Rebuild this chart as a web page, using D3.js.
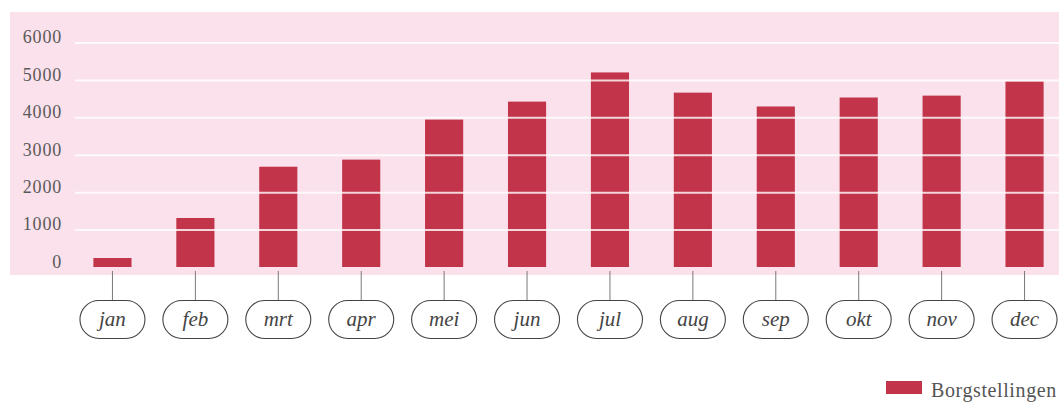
<!DOCTYPE html>
<html><head><meta charset="utf-8">
<script src="https://cdn.jsdelivr.net/npm/d3@7"></script>
<style>body{margin:0;background:#fff}svg{display:block}</style>
</head><body>
<svg id="c" width="1059" height="402"></svg>
<script>
const months = ["jan","feb","mrt","apr","mei","jun","jul","aug","sep","okt","nov","dec"];
const borgstellingen = [240,1310,2680,2870,3940,4420,5200,4660,4290,4530,4580,4960];
const yTicks = [0,1000,2000,3000,4000,5000,6000];
const seriesName = "Borgstellingen";

const svg = d3.select("#c");
const barColor = "#c1344a";
const serif = "'Liberation Serif','DejaVu Serif',serif";

// background panel
svg.append("rect").attr("x",10).attr("y",12).attr("width",1049).attr("height",263).attr("fill","#fbe1eb");

const x = d3.scaleBand().domain(months).range([71,1066]).paddingInner(0.54).paddingOuter(0.27);
const y = d3.scaleLinear().domain([0,6000]).range([267,42.5]);

// bars
svg.append("g").selectAll("rect").data(months).join("rect")
  .attr("x",d=>x(d)).attr("width",x.bandwidth())
  .attr("y",(d,i)=>y(borgstellingen[i]))
  .attr("height",(d,i)=>y(0)-y(borgstellingen[i]))
  .attr("fill",barColor);

// grid lines over bars (white)
const yAxis = d3.axisLeft(y).tickValues(yTicks).tickSize(-984).tickPadding(12).tickFormat(d3.format("d"));
const ga = svg.append("g").attr("transform","translate(75,0)").call(yAxis);
ga.select(".domain").remove();
ga.selectAll(".tick line").attr("stroke","#ffffff").attr("stroke-width",2).attr("stroke-opacity",0.8)
  .filter(d=>d===0).remove();
ga.selectAll(".tick text").attr("fill","#5a5a5a").attr("font-family",serif).attr("font-size",18)
  .attr("letter-spacing",0.8).attr("x",-13).attr("dy","0.02em");

// x ticks and pill labels
const gx = svg.append("g").selectAll("g").data(months).join("g")
  .attr("transform",d=>`translate(${x(d)+x.bandwidth()/2},0)`);
gx.append("line").attr("y1",271).attr("y2",300).attr("stroke","#7a7a7a").attr("stroke-width",1);
gx.append("rect").attr("x",-32.5).attr("y",300.5).attr("width",65).attr("height",38).attr("rx",19).attr("ry",19)
  .attr("fill","#fff").attr("stroke","#444").attr("stroke-width",1.1);
gx.append("text").attr("y",326).attr("text-anchor","middle").attr("font-family",serif)
  .attr("font-style","italic").attr("font-size",21).attr("fill","#444").text(d=>d);

// legend
const lg = svg.append("g").attr("transform","translate(886,381)");
lg.append("rect").attr("width",36).attr("height",13).attr("fill",barColor);
lg.append("text").attr("x",45).attr("y",16).attr("font-family",serif).attr("font-size",20)
  .attr("letter-spacing",0.6).attr("fill","#555").text(seriesName);
</script>
</body></html>
